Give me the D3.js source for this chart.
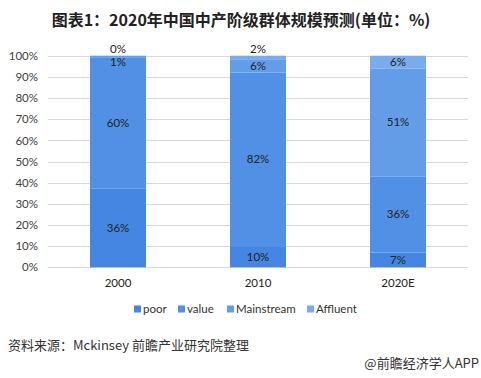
<!DOCTYPE html>
<html><head><meta charset="utf-8">
<script src="https://cdn.jsdelivr.net/npm/d3@7/dist/d3.min.js"></script>
<style>
body{margin:0;background:#fff;}
svg{display:block;font-family:"Microsoft YaHei","Noto Sans CJK SC","Noto Sans",sans-serif;}
</style></head>
<body><svg id="c" width="481" height="378"></svg>
<script>
const categories = ["2000", "2010", "2020E"];
const seriesNames = ["poor", "value", "Mainstream", "Affluent"];
const poor = [36, 10, 7];
const value = [60, 82, 36];
const mainstream = [1, 6, 51];
const affluent = [0, 2, 6];
const yTicks = [0, 0.1, 0.2, 0.3, 0.4, 0.5, 0.6, 0.7, 0.8, 0.9, 1.0];
const colors = ["#4486e2", "#5190e4", "#639de8", "#7aabec"];
const latin = "Lato,'Open Sans','DejaVu Sans',sans-serif";

const svg = d3.select("#c");
const m = {l: 48, r: 13, t: 55.7, b: 110.7};
const W = 481, H = 378;
const x = d3.scaleBand().domain(categories).range([m.l, W - m.r]).paddingInner(0.6).paddingOuter(0.3);
const y = d3.scaleLinear().domain([0, 1]).range([H - m.b, m.t]);

const rows = categories.map((c, i) => ({cat: c, poor: poor[i], value: value[i], Mainstream: mainstream[i], Affluent: affluent[i]}));
const stack = d3.stack().keys(seriesNames).offset(d3.stackOffsetExpand);
const layers = stack(rows);

// title
svg.append("text").attr("x", 241).attr("y", 26).attr("text-anchor", "middle")
  .attr("font-size", 16).attr("font-weight", "bold").attr("fill", "#222")
  .text("图表1：2020年中国中产阶级群体规模预测(单位：%)");

// gridlines
svg.append("g").selectAll("line").data(yTicks).join("line")
  .attr("x1", m.l).attr("x2", W - m.r)
  .attr("y1", d => Math.round(y(d)) + 0.5).attr("y2", d => Math.round(y(d)) + 0.5)
  .attr("stroke", "#d9d9d9").attr("stroke-width", 1);

// y axis labels
const yAxis = d3.axisLeft(y).tickValues(yTicks).tickFormat(d3.format(".0%")).tickSize(0).tickPadding(10);
const ga = svg.append("g").attr("transform", `translate(${m.l},0)`).call(yAxis);
ga.select(".domain").remove();
ga.selectAll("text").attr("font-size", 11.5).attr("fill", "#404040").style("font-family", latin);

// bars
layers.forEach((layer, li) => {
  svg.append("g").selectAll("rect").data(layer).join("rect")
    .attr("x", d => x(d.data.cat))
    .attr("width", x.bandwidth())
    .attr("y", d => y(d[1]))
    .attr("height", d => y(d[0]) - y(d[1]))
    .attr("fill", colors[li]);
});

// labels
const labelG = svg.append("g");
layers.forEach((layer, li) => {
  const key = seriesNames[li];
  layer.forEach(d => {
    const top = y(1);
    let cy = (y(d[0]) + y(d[1])) / 2;
    const h = y(d[0]) - y(d[1]);
    if (li === seriesNames.length - 1 && h < 6) cy = top - 7;
    else cy = Math.max(cy, top + 6);
    labelG.append("text").attr("x", x(d.data.cat) + x.bandwidth() / 2).attr("y", cy)
      .attr("dy", "0.35em").attr("text-anchor", "middle").attr("font-size", 11.5).attr("fill", "#222")
      .style("font-family", latin)
      .text(d.data[key] + "%");
  });
});

// x labels
const xAxis = d3.axisBottom(x).tickSize(0).tickPadding(12);
const gx = svg.append("g").attr("transform", `translate(0,${y(0)})`).call(xAxis);
gx.select(".domain").remove();
gx.selectAll("text").attr("font-size", 11.5).attr("fill", "#222").style("font-family", latin);

// legend
const legX = [134, 178, 227, 307];
const leg = svg.append("g");
seriesNames.forEach((s, i) => {
  leg.append("rect").attr("x", legX[i]).attr("y", 305.5).attr("width", 7).attr("height", 7).attr("fill", colors[i]);
  leg.append("text").attr("x", legX[i] + 9).attr("y", 309).attr("dy", "0.35em").attr("font-size", 11.5).attr("fill", "#333")
    .style("font-family", latin).text(s);
});

// source
svg.append("text").attr("x", 8).attr("y", 350).attr("font-size", 13).attr("fill", "#333")
  .text("资料来源：Mckinsey 前瞻产业研究院整理");
svg.append("text").attr("x", 479).attr("y", 368).attr("text-anchor", "end").attr("font-size", 13).attr("fill", "#333")
  .text("@前瞻经济学人APP");
</script></body></html>
